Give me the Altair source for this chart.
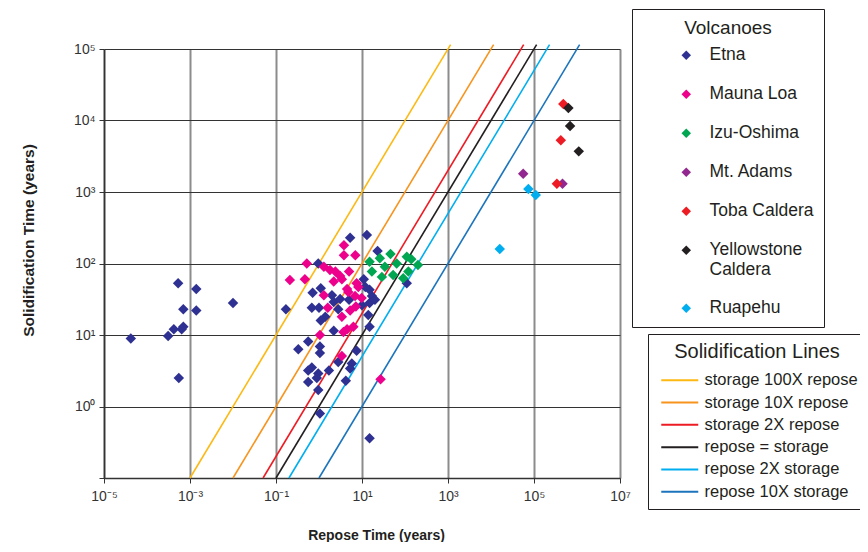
import altair as alt
import pandas as pd

# ---------------- data ----------------
volcano_names = ["Etna", "Mauna Loa", "Izu-Oshima", "Mt. Adams",
                 "Toba Caldera", "Yellowstone Caldera", "Ruapehu"]
volcano_colors = ["#2e3192", "#ec008c", "#00a651", "#92278f",
                  "#ed1c24", "#231f20", "#00aeef"]

etna_repose = [5.3e-4, 1.4e-3, 1.0e-2, 7.0e-4, 1.4e-3, 4.2e-4, 7.0e-4, 6.4e-4, 3.1e-4, 4.2e-5,
               5.5e-4, 5.3, 13, 23, 0.96, 11, 15, 17, 15, 20,
               0.71, 1.1, 2.0, 2.2, 5.0, 0.68, 1.0, 0.17, 2.8, 1.4,
               1.1, 2.2, 15, 0.56, 0.33, 1.05, 1.05, 7.5, 2.8, 5.8,
               5.3, 0.56, 0.68, 1.7, 0.96, 0.89, 4.2, 0.56, 0.96, 1.05,
               15, 110, 3.1, 14, 10, 12]
etna_solid = [53, 44, 28, 23, 22, 12, 13, 12, 9.7, 8.9,
              2.5, 230, 250, 150, 100, 60, 43, 35, 28, 31,
              39, 45, 36, 29, 31, 24, 24, 23, 23, 18,
              16, 11.5, 13, 8.1, 6.3, 6.9, 5.6, 6.0, 4.2, 4.0,
              3.4, 3.2, 3.5, 3.2, 2.9, 2.5, 2.3, 2.2, 1.7, 0.80,
              0.36, 53, 32, 19, 26, 47]

mauna_repose = [3.8, 3.8, 7.0, 0.52, 1.3, 1.8, 2.4, 5.0, 0.21, 0.47,
                2.2, 3.4, 7.5, 4.5, 8.2, 1.3, 6.9, 9.8, 1.6, 5.3,
                7.2, 3.4, 4.5, 6.3, 3.7, 1.05, 3.4, 27, 3.1, 4.8]
mauna_solid = [180, 130, 130, 100, 90, 81, 77, 77, 59, 60,
               56, 60, 53, 44, 47, 36, 35, 33, 24, 22,
               25, 18, 12, 13, 11, 10, 5.1, 2.4, 67, 40]

izu_repose = [46, 26, 110, 140, 15, 34, 64, 200, 17, 29, 53, 120, 91]
izu_solid = [136, 118, 124, 115, 106, 90, 100, 95, 77, 65, 69, 77, 62]

adams_repose = [5.6e4, 4.6e5]
adams_solid = [1800, 1300]

toba_repose = [4.8e5, 4.2e5, 3.4e5]
toba_solid = [1.7e4, 5300, 1300]

yellow_repose = [6.3e5, 6.9e5, 1.1e6]
yellow_solid = [1.5e4, 8400, 3700]

ruapehu_repose = [7.4e4, 1.1e5, 1.6e4]
ruapehu_solid = [1100, 910, 160]

line_names = ["storage 100X repose", "storage 10X repose", "storage 2X repose",
              "repose = storage", "repose 2X storage", "repose 10X storage"]
line_colors = ["#fdb913", "#f7941d", "#ed1c24", "#231f20", "#00aeef", "#1c75bc"]
line_x_start = [1e-3, 1e-2, 5e-2, 1e-1, 2e-1, 1.0]
line_x_end = [1.15e3, 1.15e4, 5.75e4, 1.15e5, 2.3e5, 1.15e6]
line_y_start = [0.1, 0.1, 0.1, 0.1, 0.1, 0.1]
line_y_end = [1.15e5, 1.15e5, 1.15e5, 1.15e5, 1.15e5, 1.15e5]

x_ticks = [1e-5, 1e-3, 1e-1, 1e1, 1e3, 1e5, 1e7]
y_ticks = [1e-1, 1e0, 1e1, 1e2, 1e3, 1e4, 1e5]

# ---------------- tables ----------------
groups = [
    ("Etna", etna_repose, etna_solid),
    ("Mauna Loa", mauna_repose, mauna_solid),
    ("Izu-Oshima", izu_repose, izu_solid),
    ("Mt. Adams", adams_repose, adams_solid),
    ("Toba Caldera", toba_repose, toba_solid),
    ("Yellowstone Caldera", yellow_repose, yellow_solid),
    ("Ruapehu", ruapehu_repose, ruapehu_solid),
]
rows = []
for name, xs, ys in groups:
    for xv, yv in zip(xs, ys):
        rows.append({"volcano": name, "repose": xv, "solid": yv})
points_df = pd.DataFrame(rows)

lrows = []
for name, x0, x1, y0, y1 in zip(line_names, line_x_start, line_x_end, line_y_start, line_y_end):
    lrows.append({"line": name, "repose": x0, "solid": y0, "k": 0})
    lrows.append({"line": name, "repose": x1, "solid": y1, "k": 1})
lines_df = pd.DataFrame(lrows)

FONT = "Liberation Sans"
DARK = "#231f20"

exp = "round(log(datum.value)/LN10)"
sup = ("'10' + (" + exp + " < 0 ? '\u207b' : '') + substring('\u2070\u00b9\u00b2\u00b3\u2074\u2075\u2076\u2077\u2078\u2079', abs("
       + exp + "), abs(" + exp + ") + 1)")

x_axis = alt.Axis(values=x_ticks, labelExpr=sup, title="Repose Time (years)",
                  titleFont=FONT, titleFontWeight="bold", titleFontSize=14, titleColor=DARK,
                  titleX=272, titleY=57, titleBaseline="middle",
                  grid=True, gridColor="#8c8c8c", gridWidth=2,
                  domainColor="#333333", domainWidth=1.5, tickColor="#333333", tickSize=5,
                  labelFont=FONT, labelFontSize=14, labelColor="#333333", labelPadding=6,
                  labelFlush=False, labelOverlap=False)
y_axis = alt.Axis(values=y_ticks, labelExpr="datum.value < 0.5 ? '' : " + sup,
                  title="Solidification Time (years)",
                  titleFont=FONT, titleFontWeight="bold", titleFontSize=15.5, titleColor=DARK,
                  titleX=-76, titleY=191, titleBaseline="middle",
                  grid=True, gridColor="#333333", gridWidth=1.2,
                  domainColor="#333333", domainWidth=1.5, tickColor="#333333", tickSize=5,
                  labelFont=FONT, labelFontSize=14, labelColor="#333333", labelPadding=4,
                  labelFlush=False, labelOverlap=False)

x_scale = alt.Scale(type="log", domain=[1e-5, 1e7], nice=False)
y_scale = alt.Scale(type="log", domain=[1e-1, 1e5], nice=False)

volcano_legend = alt.Legend(
    title="Volcanoes", orient="none", legendX=528, legendY=-40,
    padding=10, strokeColor=DARK, fillColor="white",
    titleFont=FONT, titleFontSize=19, titleFontWeight="normal", titleColor=DARK,
    titlePadding=8.5, titleAnchor="middle",
    labelFont=FONT, labelFontSize=17.5, labelColor=DARK, labelLimit=300,
    labelExpr="datum.label == 'Yellowstone Caldera' ? ['Yellowstone', 'Caldera'] : datum.label",
    symbolType="diamond", symbolSize=90, symbolStrokeWidth=0, symbolOffset=35.5,
    labelOffset=14.5, rowPadding=20)

line_legend = alt.Legend(
    title="Solidification Lines", orient="none", legendX=544, legendY=285,
    padding=8, strokeColor=DARK, fillColor="white",
    titleFont=FONT, titleFontSize=20, titleFontWeight="normal", titleColor=DARK,
    titlePadding=10, titleAnchor="middle",
    labelFont=FONT, labelFontSize=16.5, labelColor=DARK, labelLimit=300,
    symbolType="M-3.7,0L3.7,0", symbolSize=100, symbolStrokeWidth=2, symbolOffset=15.5,
    labelOffset=16.5, rowPadding=5.3)

lines = alt.Chart(lines_df).mark_line(strokeWidth=1.6).encode(
    x=alt.X("repose:Q", scale=x_scale, axis=x_axis),
    y=alt.Y("solid:Q", scale=y_scale, axis=y_axis),
    color=alt.Color("line:N", scale=alt.Scale(domain=line_names, range=line_colors),
                    legend=line_legend),
    order="k:Q",
)

points = alt.Chart(points_df).mark_point(shape="diamond", filled=True, size=110, opacity=1).encode(
    x=alt.X("repose:Q", scale=x_scale, axis=x_axis),
    y=alt.Y("solid:Q", scale=y_scale, axis=y_axis),
    color=alt.Color("volcano:N", scale=alt.Scale(domain=volcano_names, range=volcano_colors),
                    legend=volcano_legend),
)

chart = alt.layer(lines, points).resolve_scale(color="independent").properties(
    width=516, height=429,
    autosize=alt.AutoSizeParams(type="none"),
    padding={"left": 96, "top": 41, "right": 240, "bottom": 64},
    background="white",
).configure_view(strokeWidth=0)

chart.save("out.html", embed_options={"renderer": "svg", "actions": False})
